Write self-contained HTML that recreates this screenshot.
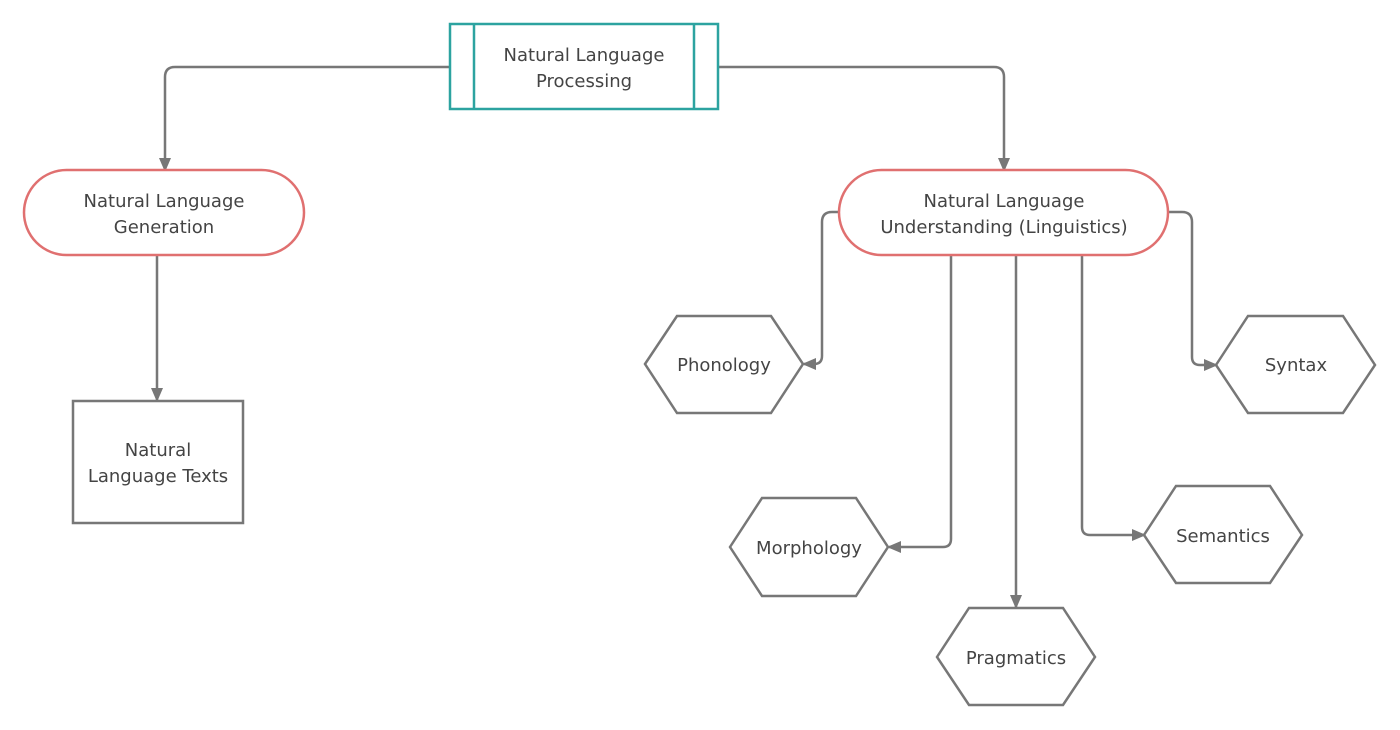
<!DOCTYPE html>
<html><head><meta charset="utf-8"><style>
html,body{margin:0;padding:0;background:#fff;}
svg{display:block;}
text{font-family:"DejaVu Sans","Liberation Sans",sans-serif;font-size:18px;fill:#444;text-anchor:middle;}
</style></head><body>
<svg width="1400" height="730" viewBox="0 0 1400 730" xmlns="http://www.w3.org/2000/svg">
<defs>
<marker id="a" markerWidth="14" markerHeight="14" refX="12" refY="7" orient="auto" markerUnits="userSpaceOnUse" viewBox="0 0 14 14">
<path d="M0,1 L14,7 L0,13 z" fill="#777"/>
</marker>
</defs>
<g fill="none" stroke="#777" stroke-width="2.5">
<path d="M450,67 H175 Q165,67 165,77 V170" marker-end="url(#a)"/>
<path d="M718,67 H994 Q1004,67 1004,77 V170" marker-end="url(#a)"/>
<path d="M157,255 V400" marker-end="url(#a)"/>
<path d="M839,212 H832 Q822,212 822,222 V356 Q822,364 814,364 H804" marker-end="url(#a)"/>
<path d="M1168,212 H1182 Q1192,212 1192,222 V357 Q1192,365 1200,365 H1216" marker-end="url(#a)"/>
<path d="M951,255 V539 Q951,547 943,547 H889" marker-end="url(#a)"/>
<path d="M1016,255 V607" marker-end="url(#a)"/>
<path d="M1082,255 V527 Q1082,535 1090,535 H1144" marker-end="url(#a)"/>
</g>
<g fill="#fff" stroke="#2ca3a0" stroke-width="2.5">
<rect x="450" y="24" width="268" height="85"/>
<line x1="474" y1="24" x2="474" y2="109"/>
<line x1="694" y1="24" x2="694" y2="109"/>
</g>
<text x="584" y="61">Natural Language</text>
<text x="584" y="87">Processing</text>
<g fill="#fff" stroke="#e07070" stroke-width="2.5">
<rect x="24" y="170" width="280" height="85" rx="42.5"/>
<rect x="839" y="170" width="329" height="85" rx="42.5"/>
</g>
<text x="164" y="207">Natural Language</text>
<text x="164" y="233">Generation</text>
<text x="1004" y="207">Natural Language</text>
<text x="1004" y="233">Understanding (Linguistics)</text>
<rect x="73" y="401" width="170" height="122" fill="#fff" stroke="#777" stroke-width="2.5"/>
<text x="158" y="456">Natural</text>
<text x="158" y="482">Language Texts</text>
<g fill="#fff" stroke="#777" stroke-width="2.5">
<polygon points="645,364 677,316 771,316 803,364 771,413 677,413"/>
<polygon points="1216,365 1248,316 1343,316 1375,365 1343,413 1248,413"/>
<polygon points="730,547 762,498 856,498 888,547 856,596 762,596"/>
<polygon points="937,657 969,608 1063,608 1095,657 1063,705 969,705"/>
<polygon points="1144,535 1176,486 1270,486 1302,535 1270,583 1176,583"/>
</g>
<text x="724" y="371">Phonology</text>
<text x="1296" y="371">Syntax</text>
<text x="809" y="554">Morphology</text>
<text x="1016" y="664">Pragmatics</text>
<text x="1223" y="542">Semantics</text>
</svg>
</body></html>
